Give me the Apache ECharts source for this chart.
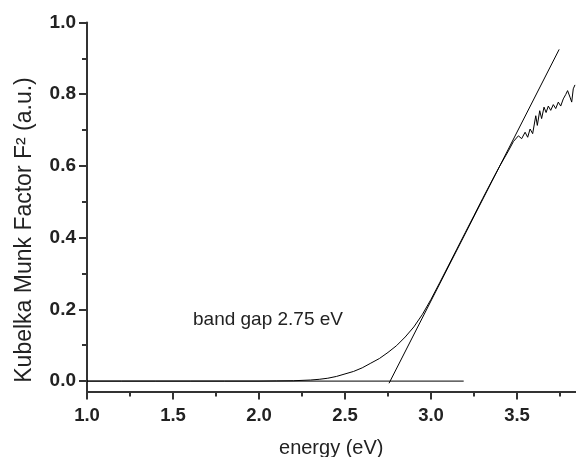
<!DOCTYPE html>
<html>
<head>
<meta charset="utf-8">
<script src="https://cdn.jsdelivr.net/npm/echarts@6/dist/echarts.min.js"></script>
<style>html,body{margin:0;padding:0;background:#fff;}#c{width:576px;height:457px;}</style>
</head>
<body>
<div id="c"></div>
<script>
// Measured spectrum: energy (eV) vs Kubelka-Munk F^2 (a.u.)
var energy = [1.0, 1.2, 1.4, 1.6, 1.8, 2.0, 2.1, 2.2, 2.3, 2.35, 2.4, 2.45, 2.5, 2.55, 2.6, 2.65, 2.7, 2.75, 2.8, 2.85, 2.9, 2.95, 3.0, 3.05, 3.1, 3.15, 3.2, 3.25, 3.3, 3.35, 3.4, 3.45, 3.479, 3.508, 3.527, 3.547, 3.562, 3.576, 3.591, 3.609, 3.618, 3.632, 3.643, 3.657, 3.669, 3.682, 3.696, 3.711, 3.725, 3.740, 3.754, 3.769, 3.783, 3.794, 3.808, 3.818, 3.827, 3.837];
var kmF2 = [0, 0, 0, 0, 0, 0, 0.0005, 0.001, 0.003, 0.005, 0.008, 0.013, 0.02, 0.027, 0.037, 0.05, 0.063, 0.08, 0.099, 0.123, 0.151, 0.186, 0.228, 0.274, 0.321, 0.368, 0.415, 0.462, 0.509, 0.555, 0.6, 0.642, 0.668, 0.684, 0.676, 0.694, 0.680, 0.703, 0.690, 0.740, 0.713, 0.754, 0.732, 0.764, 0.749, 0.767, 0.755, 0.771, 0.760, 0.778, 0.767, 0.787, 0.799, 0.810, 0.792, 0.778, 0.815, 0.826];
// Baseline (y = 0) and linear extrapolation (tangent) lines
var baselineX = [1.0, 3.19];
var baselineY = [0, 0];
var tangentX = [2.756, 3.745];
var tangentY = [-0.006, 0.925];
// Tick labels
var xMajorTicks = [1.0, 1.5, 2.0, 2.5, 3.0, 3.5];
var xMinorTicks = [1.25, 1.75, 2.25, 2.75, 3.25, 3.75];
var yMajorTicks = [0.0, 0.2, 0.4, 0.6, 0.8, 1.0];
var yMinorTicks = [0.1, 0.3, 0.5, 0.7, 0.9];
var xTitle = 'energy (eV)';
var yTitle = 'Kubelka Munk Factor F\u00B2 (a.u.)';
var annotation = 'band gap 2.75 eV';

function zip(a, b) { return a.map(function (v, i) { return [v, b[i]]; }); }

var FONT = 'Liberation Sans, Arial, sans-serif';
var AX = '#333';
var chart = echarts.init(document.getElementById('c'));
var xmin = 1.0, xmax = 3.84, ymin = -0.029, ymax = 1.0;

chart.setOption({
  animation: false,
  backgroundColor: '#fff',
  grid: { left: 87, right: 0.5, top: 22.5, bottom: 65.5, containLabel: false, outerBoundsMode: 'none' },
  xAxis: [{
    type: 'value', min: xmin, max: xmax, position: 'bottom',
    axisLine: { show: true, onZero: false, lineStyle: { color: AX, width: 2 } },
    axisTick: { show: true, customValues: xMajorTicks, length: 8, lineStyle: { color: AX, width: 2 } },
    axisLabel: { show: true, customValues: xMajorTicks, margin: 15, color: '#222', fontFamily: FONT, fontWeight: 'bold', fontSize: 18.5,
      formatter: function (v) { return v.toFixed(1); } },
    splitLine: { show: false },
    name: xTitle, nameLocation: 'middle', nameGap: 47,
    nameTextStyle: { color: '#222', fontFamily: FONT, fontSize: 20 }
  }, {
    type: 'value', min: xmin, max: xmax, position: 'bottom', offset: 0,
    axisLine: { show: false, onZero: false },
    axisTick: { show: true, customValues: xMinorTicks, length: 5, lineStyle: { color: AX, width: 2 } },
    axisLabel: { show: false },
    splitLine: { show: false }
  }],
  yAxis: [{
    type: 'value', min: ymin, max: ymax, position: 'left',
    axisLine: { show: true, onZero: false, lineStyle: { color: AX, width: 2 } },
    axisTick: { show: true, customValues: yMajorTicks, length: 8, lineStyle: { color: AX, width: 2 } },
    axisLabel: { show: true, customValues: yMajorTicks, margin: 11, color: '#222', fontFamily: FONT, fontWeight: 'bold', fontSize: 19,
      formatter: function (v) { return v.toFixed(1); } },
    splitLine: { show: false }
  }, {
    type: 'value', min: ymin, max: ymax, position: 'left', offset: 0,
    axisLine: { show: false, onZero: false },
    axisTick: { show: true, customValues: yMinorTicks, length: 5, lineStyle: { color: AX, width: 2 } },
    axisLabel: { show: false },
    splitLine: { show: false }
  }],
  graphic: [{
    type: 'text', x: 25, y: 230, rotation: Math.PI / 2,
    style: { text: yTitle, fill: '#222', font: '23px ' + FONT, align: 'center', verticalAlign: 'middle' }
  }, {
    type: 'text', x: 193, y: 310,
    style: { text: annotation, fill: '#222', font: '19px ' + FONT, align: 'left', verticalAlign: 'top' }
  }],
  series: [{
    type: 'line', data: zip(baselineX, baselineY), symbol: 'none',
    lineStyle: { color: '#000', width: 1 }, xAxisIndex: 0, yAxisIndex: 0
  }, {
    type: 'line', data: zip(tangentX, tangentY), symbol: 'none',
    lineStyle: { color: '#000', width: 1 }, xAxisIndex: 0, yAxisIndex: 0
  }, {
    type: 'line', data: zip(energy, kmF2), symbol: 'none',
    lineStyle: { color: '#000', width: 1 }, xAxisIndex: 0, yAxisIndex: 0
  }]
});
</script>
</body>
</html>
